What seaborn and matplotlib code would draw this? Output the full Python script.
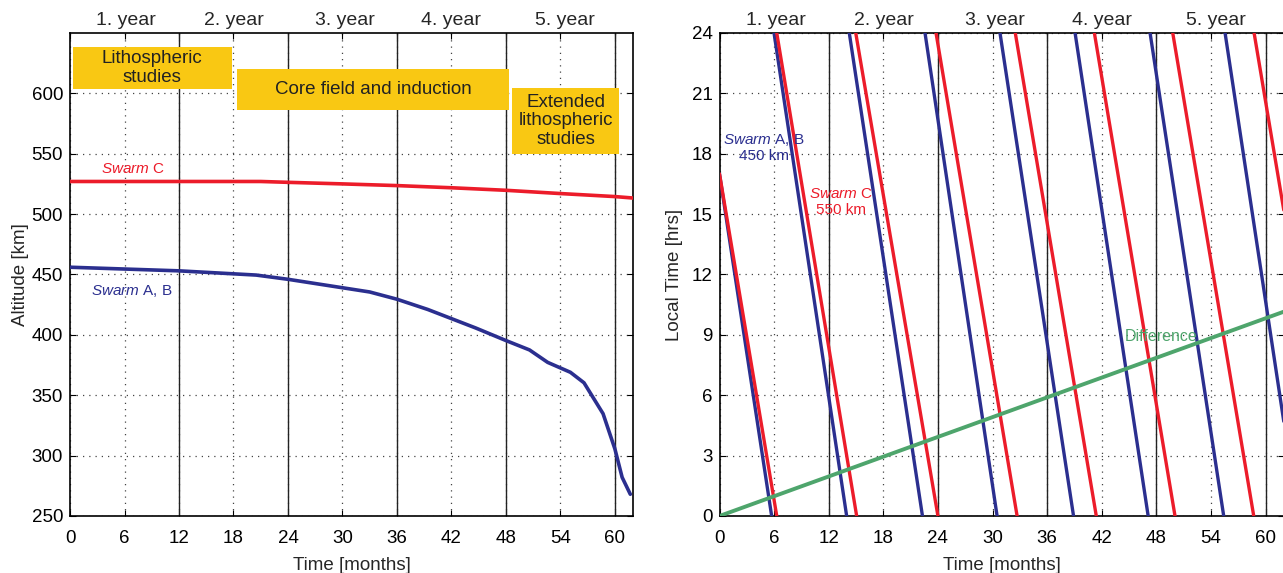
import matplotlib
matplotlib.use("Agg")
import matplotlib.pyplot as plt
import seaborn as sns
import numpy as np
import pandas as pd
from matplotlib.patches import Rectangle

# ---- data ----
# left panel: altitude decay
c_months = [0, 6, 12, 18, 21, 24, 30, 36, 42, 48, 54, 60, 62]
c_alt = [527, 527, 527, 527, 527, 526.3, 525, 523.6, 521.8, 519.7, 517, 514.5, 513.3]

ab_months = [0, 6, 12, 20.5, 24, 33, 36, 39.4, 44.7, 48, 50.6, 52.6, 55.1, 56.6, 58.7, 60, 60.8, 61.7]
ab_alt = [456, 454.5, 453, 449.5, 446, 435.5, 429.5, 421, 405.6, 395.3, 387.5, 377.2, 369, 360.3, 334.7, 305.6, 282, 268]

phases = ["Lithospheric\nstudies", "Core field and induction", "Extended\nlithospheric\nstudies"]
phase_start = [0.3, 18.4, 48.7]
phase_end = [17.8, 48.3, 60.5]
phase_low = [603.5, 586, 550]
phase_high = [638.5, 620, 604.5]

years = ["1. year", "2. year", "3. year", "4. year", "5. year"]
year_mid = [6.2, 18.1, 30.3, 42, 54.5]
year_bounds = [12, 24, 36, 48, 60]

# right panel: local time of ascending node, segments (start -> end)
ab_seg_t0 = [0, 5.99, 14.26, 22.58, 30.82, 39.07, 47.31, 55.55]
ab_seg_lt0 = [17, 24, 24, 24, 24, 24, 24, 24]
ab_seg_t1 = [5.73, 13.97, 22.3, 30.5, 38.9, 47.1, 55.4, 62]
ab_seg_lt1 = [0, 0, 0, 0, 0, 0, 0, 4.7]

c_seg_t0 = [0, 6.29, 14.97, 23.79, 32.5, 41.19, 49.8, 58.74]
c_seg_lt0 = [17, 24, 24, 24, 24, 24, 24, 24]
c_seg_t1 = [6.29, 15.07, 24.0, 32.7, 41.4, 50.05, 58.7, 62]
c_seg_lt1 = [0, 0, 0, 0, 0, 0, 0, 15.2]

diff_months = [0, 62]
diff_lt = [0, 10.15]

NAVY = "#2b2f8f"
RED = "#ec1c2a"
GREEN = "#4ea56c"
GOLD = "#f9c813"

sns.set_style("white")
plt.rcParams["font.family"] = ["Liberation Sans", "DejaVu Sans"]
plt.rcParams["mathtext.fontset"] = "custom"
plt.rcParams["mathtext.it"] = "Liberation Sans:italic"
plt.rcParams["mathtext.rm"] = "Liberation Sans"

fig = plt.figure(figsize=(12.83, 5.73), dpi=100)
ax1 = fig.add_axes([0.0546, 0.0995, 0.4388, 0.843])
ax2 = fig.add_axes([0.5608, 0.0995, 0.4398, 0.843])


def style_axes(ax, yticks):
    ax.set_xlim(0, 62)
    ax.set_xticks(np.arange(0, 61, 6))
    ax.set_yticks(yticks)
    ax.grid(True, color="#444444", linestyle=(0, (1, 4)), linewidth=0.9)
    for x in year_bounds:
        ax.axvline(x, color="#222222", lw=1.0, zorder=1.5)
    for s in ax.spines.values():
        s.set_color("black")
        s.set_linewidth(1.2)
    ax.tick_params(direction="in", length=4, labelsize=13.5, colors="black",
                   top=True, right=True, bottom=True, left=True)
    ax.tick_params(axis="x", pad=10)
    ax.tick_params(axis="y", pad=5)
    top = ax.secondary_xaxis("top")
    top.set_xticks(year_mid)
    top.set_xticklabels(years)
    top.tick_params(length=0, labelsize=14, pad=3)
    top.spines["top"].set_visible(False)
    ax.set_xlabel("Time [months]", fontsize=13.5, labelpad=7)


# ---- left panel ----
left_df = pd.concat([
    pd.DataFrame({"t": c_months, "alt": c_alt, "sat": "C"}),
    pd.DataFrame({"t": ab_months, "alt": ab_alt, "sat": "AB"}),
])
sns.lineplot(data=left_df, x="t", y="alt", hue="sat", palette={"C": RED, "AB": NAVY},
             lw=2.6, legend=False, ax=ax1, zorder=3)
ax1.set_ylim(250, 650)
style_axes(ax1, np.arange(250, 601, 50))
ax1.set_ylabel("Altitude [km]", fontsize=13.5, labelpad=2)

for name, x0, x1, y0, y1 in zip(phases, phase_start, phase_end, phase_low, phase_high):
    ax1.add_patch(Rectangle((x0, y0), x1 - x0, y1 - y0, facecolor=GOLD, edgecolor="none", zorder=4))
    ax1.text((x0 + x1) / 2, (y0 + y1) / 2, name, ha="center", va="center",
             fontsize=13.5, color="#222222", linespacing=1.1, zorder=5)

ax1.text(6.9, 537.5, r"$\mathit{Swarm}$ C", color=RED, fontsize=11, ha="center", va="center")
ax1.text(6.8, 436, r"$\mathit{Swarm}$ A, B", color=NAVY, fontsize=11, ha="center", va="center")

# ---- right panel ----
rows = []
for sat, t0s, l0s, t1s, l1s in [("AB", ab_seg_t0, ab_seg_lt0, ab_seg_t1, ab_seg_lt1),
                                 ("C", c_seg_t0, c_seg_lt0, c_seg_t1, c_seg_lt1)]:
    for i, (t0, l0, t1, l1) in enumerate(zip(t0s, l0s, t1s, l1s)):
        rows.append({"t": t0, "lt": l0, "sat": sat, "seg": f"{sat}{i}"})
        rows.append({"t": t1, "lt": l1, "sat": sat, "seg": f"{sat}{i}"})
lt_df = pd.DataFrame(rows)
sns.lineplot(data=lt_df, x="t", y="lt", hue="sat", units="seg", estimator=None,
             palette={"C": RED, "AB": NAVY}, lw=2.4, legend=False, ax=ax2, zorder=3,
             sort=False)
sns.lineplot(x=diff_months, y=diff_lt, color=GREEN, lw=2.8, ax=ax2, zorder=3.5)
ax2.set_ylim(0, 24)
style_axes(ax2, np.arange(0, 25, 3))
ax2.set_ylabel("Local Time [hrs]", fontsize=13.5, labelpad=6)
ax2.spines["right"].set_visible(False)

ax2.text(4.9, 18.3, "$\\mathit{Swarm}$ A, B\n450 km", color=NAVY, fontsize=11,
         ha="center", va="center", linespacing=1.1, zorder=4)
ax2.text(13.3, 15.6, "$\\mathit{Swarm}$ C\n550 km", color=RED, fontsize=11,
         ha="center", va="center", linespacing=1.1, zorder=4)
ax2.text(48.5, 8.9, "Difference", color=GREEN, fontsize=11.5, ha="center", va="center", zorder=4)

fig.savefig("out.png", dpi=100)
